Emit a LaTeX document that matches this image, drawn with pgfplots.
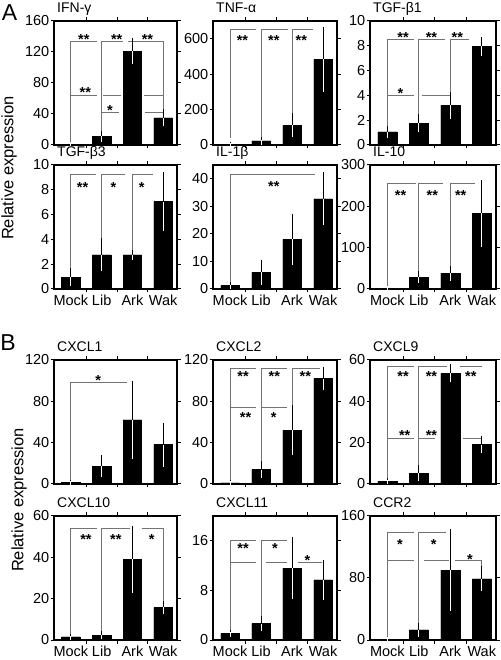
\documentclass[border=0pt]{standalone}
\usepackage{fontspec}
\setmainfont{Liberation Sans}
\usepackage{pgfplots}
\usepackage{pgfplotstable}
\pgfplotsset{compat=1.18}
\definecolor{brkgray}{gray}{0.45}

\pgfplotstableread[row sep=\\]{x y e\\ 1 1 0.5\\ 2 11 4\\ 3 121 14\\ 4 35 8\\}\tifn
\pgfplotstableread[row sep=\\]{x y e\\ 1 2 1\\ 2 23 9\\ 3 111 56\\ 4 483 170\\}\ttnf
\pgfplotstableread[row sep=\\]{x y e\\ 1 1.05 0.3\\ 2 1.75 0.55\\ 3 3.2 0.9\\ 4 7.95 0.6\\}\ttgfa
\pgfplotstableread[row sep=\\]{x y e\\ 1 0.95 0.55\\ 2 2.75 1.15\\ 3 2.75 0.25\\ 4 7.05 2.2\\}\ttgfb
\pgfplotstableread[row sep=\\]{x y e\\ 1 1.2 0.4\\ 2 6 3.8\\ 3 18 8.5\\ 4 32.7 8.8\\}\tilb
\pgfplotstableread[row sep=\\]{x y e\\ 1 2 1\\ 2 29 8\\ 3 38.5 13\\ 4 183 75\\}\tilx
\pgfplotstableread[row sep=\\]{x y e\\ 1 1.5 0.5\\ 2 17 8.5\\ 3 62 36\\ 4 38 19\\}\tca
\pgfplotstableread[row sep=\\]{x y e\\ 1 1 0.5\\ 2 14 6\\ 3 52 22\\ 4 102 9\\}\tcb
\pgfplotstableread[row sep=\\]{x y e\\ 1 1.3 0.4\\ 2 5.2 2.7\\ 3 53.5 3.3\\ 4 19 3\\}\tcc
\pgfplotstableread[row sep=\\]{x y e\\ 1 1.5 0.5\\ 2 2.4 1\\ 3 39 15\\ 4 15.8 2\\}\tcd
\pgfplotstableread[row sep=\\]{x y e\\ 1 1.05 0.15\\ 2 2.65 0.9\\ 3 11.6 4.6\\ 4 9.7 2.9\\}\tce
\pgfplotstableread[row sep=\\]{x y e\\ 1 1 0.5\\ 2 13 6.5\\ 3 90 50\\ 4 79 13\\}\tcf

\pgfplotsset{
 panel/.style={
  scale only axis, height=124pt,
  xmin=0.45, xmax=4.45, ymin=0,
  anchor=south west,
  axis line style={black, line width=1.2pt},
  tick align=outside,
  major tick length=3.5pt,
  tick style={black, line width=1pt},
  xtick={1.5,2.5,3.5}, xticklabels={},
  ticklabel style={font=\fontsize{14.5}{14.5}\selectfont},
  /pgf/number format/assume math mode=true,
  yticklabel style={inner sep=1pt},
  xticklabel style={inner sep=2pt},
  title style={at={(0,1)}, anchor=base west, font=\fontsize{14}{14}\selectfont, inner sep=0pt, yshift=2.5pt, xshift=3pt},
  clip=false,
 },
 cats/.style={extra x ticks={1,2,3,4}, extra x tick labels={Mock,Lib,Ark,Wak},
   extra x tick style={tick style={draw=none}}},
 brk/.style={draw=brkgray, line width=0.9pt, no marks},
}
\tikzset{st/.style={anchor=base, yshift=-8pt, inner sep=0pt, font=\fontsize{14.5}{14.5}\selectfont\bfseries}}

\newcommand{\bars}[1]{%
 \addplot[ybar, bar width=0.6, bar shift=0pt, fill=black, draw=black, line width=0.5pt,
   error bars/.cd, y dir=plus, y explicit,
   error bar style={black, line width=1pt},
   error mark options={black, mark size=2.2pt, line width=1pt}]
   table[x=x, y=y, y error=e] {#1};
 \addplot[ybar, bar width=0.6, bar shift=0pt, fill=black, draw=black, line width=0.5pt,
   error bars/.cd, y dir=minus, y explicit,
   error bar style={white, line width=1pt},
   error mark options={white, mark size=2.2pt, line width=1pt}]
   table[x=x, y=y, y error=e] {#1};
}

\begin{document}
\begin{tikzpicture}
\useasboundingbox (0,0) rectangle (500pt,660pt);

% ---------- Panel A ----------
\node[font=\fontsize{23}{23}\selectfont] at (9.5pt,647pt) {A};
\node[rotate=90, font=\fontsize{16.5}{16.5}\selectfont] at (9pt,492pt) {Relative expression};

% IFN-gamma
\begin{axis}[panel, at={(54pt,515pt)}, width=123pt, ymax=160, ytick={0,40,80,120,160}, title={IFN-γ}]
\addplot[brk] coordinates {(1,2) (1,133) (1.85,133)};
\addplot[brk] coordinates {(2,15.5) (2,133) (2.7,133)};
\addplot[brk] coordinates {(2.87,133) (4,133) (4,44)};
\addplot[brk] coordinates {(1,64) (1.85,64)};
\addplot[brk] coordinates {(2.05,64) (2.62,64)};
\addplot[brk] coordinates {(3.38,64) (4,64)};
\addplot[brk] coordinates {(2,42) (2.55,42)};
\addplot[brk] coordinates {(3.4,42) (4,42)};
\bars{\tifn}
\node[st] at (axis cs:1.42,140) {**};
\node[st] at (axis cs:2.49,140) {**};
\node[st] at (axis cs:3.49,140) {**};
\node[st] at (axis cs:1.47,72) {**};
\node[st] at (axis cs:2.27,48.4) {*};
\end{axis}

% TNF-alpha
\begin{axis}[panel, at={(213pt,515pt)}, width=124pt, ymax=700, ytick={0,200,400,600}, title={TNF-α}]
\addplot[brk] coordinates {(1,42) (1,652) (1.85,652)};
\addplot[brk] coordinates {(2,38) (2,652) (2.87,652)};
\addplot[brk] coordinates {(3,172) (3,652) (3.66,652)};
\bars{\ttnf}
\node[st] at (axis cs:1.40,608) {**};
\node[st] at (axis cs:2.41,608) {**};
\node[st] at (axis cs:3.30,608) {**};
\end{axis}

% TGF-beta1
\begin{axis}[panel, at={(370pt,515pt)}, width=126pt, ymax=10, ytick={0,2,4,6,8,10}, title={TGF-β1}]
\addplot[brk] coordinates {(1,1.35) (1,8.49) (1.85,8.49)};
\addplot[brk] coordinates {(2,2.35) (2,8.49) (2.82,8.49)};
\addplot[brk] coordinates {(3,4.1) (3,8.49) (3.59,8.49)};
\addplot[brk] coordinates {(1,4.03) (1.85,4.03)};
\addplot[brk] coordinates {(2.11,4.03) (3,4.03)};
\bars{\ttgfa}
\node[st] at (axis cs:1.5,8.9) {**};
\node[st] at (axis cs:2.4,8.9) {**};
\node[st] at (axis cs:3.22,8.9) {**};
\node[st] at (axis cs:1.42,4.43) {*};
\end{axis}

% TGF-beta3
\begin{axis}[panel, cats, at={(54pt,371pt)}, width=123pt, ymax=10, ytick={0,2,4,6,8,10}, title={TGF-β3}]
\addplot[brk] coordinates {(1,1.6) (1,9.2) (1.8,9.2)};
\addplot[brk] coordinates {(2,3.9) (2,9.2) (2.76,9.2)};
\addplot[brk] coordinates {(3,3.0) (3,9.2) (3.68,9.2)};
\bars{\ttgfb}
\node[st] at (axis cs:1.38,8.45) {**};
\node[st] at (axis cs:2.38,8.45) {*};
\node[st] at (axis cs:3.3,8.45) {*};
\end{axis}

% IL-1beta
\begin{axis}[panel, cats, at={(213pt,371pt)}, width=124pt, ymax=45, ytick={0,10,20,30,40}, title={IL-1β}]
\addplot[brk] coordinates {(1,1.8) (1,41.5) (3.75,41.5)};
\bars{\tilb}
\node[st] at (axis cs:2.41,38.2) {**};
\end{axis}

% IL-10
\begin{axis}[panel, cats, at={(370pt,371pt)}, width=126pt, ymax=300, ytick={0,100,200,300}, title={IL-10}]
\addplot[brk] coordinates {(1,4) (1,255) (1.9,255)};
\addplot[brk] coordinates {(2,37) (2,255) (2.78,255)};
\addplot[brk] coordinates {(3,52) (3,255) (3.78,255)};
\bars{\tilx}
\node[st] at (axis cs:1.42,234) {**};
\node[st] at (axis cs:2.43,234) {**};
\node[st] at (axis cs:3.33,234) {**};
\end{axis}

% ---------- Panel B ----------
\node[font=\fontsize{23}{23}\selectfont] at (8pt,317pt) {B};
\node[rotate=90, font=\fontsize{16.5}{16.5}\selectfont] at (19pt,160pt) {Relative expression};

% CXCL1
\begin{axis}[panel, at={(54pt,176pt)}, width=123pt, ymax=120, ytick={0,40,80,120}, title={CXCL1}]
\addplot[brk] coordinates {(1,2.5) (1,98) (2.81,98)};
\bars{\tca}
\node[st] at (axis cs:1.89,103) {*};
\end{axis}

% CXCL2
\begin{axis}[panel, at={(213pt,176pt)}, width=124pt, ymax=120, ytick={0,40,80,120}, title={CXCL2}]
\addplot[brk] coordinates {(1,1.6) (1,112) (1.85,112)};
\addplot[brk] coordinates {(2,20) (2,112) (2.85,112)};
\addplot[brk] coordinates {(3,74) (3,112) (3.9,112)};
\addplot[brk] coordinates {(1,74) (1.85,74)};
\addplot[brk] coordinates {(2,74) (2.85,74)};
\bars{\tcb}
\node[st] at (axis cs:1.42,106.5) {**};
\node[st] at (axis cs:2.43,106.5) {**};
\node[st] at (axis cs:3.43,106.5) {**};
\node[st] at (axis cs:1.5,67.7) {**};
\node[st] at (axis cs:2.41,67.7) {*};
\end{axis}

% CXCL9
\begin{axis}[panel, at={(370pt,176pt)}, width=126pt, ymax=60, ytick={0,20,40,60}, title={CXCL9}]
\addplot[brk] coordinates {(1,1.8) (1,56.7) (1.85,56.7)};
\addplot[brk] coordinates {(2,7.8) (2,56.7) (2.9,56.7)};
\addplot[brk] coordinates {(3.3,56.7) (4,56.7)};
\addplot[brk] coordinates {(1,21.9) (1.85,21.9)};
\addplot[brk] coordinates {(2,21.9) (2.5,21.9)};
\addplot[brk] coordinates {(3.4,21.9) (4,21.9)};
\bars{\tcc}
\node[st] at (axis cs:1.5,53.5) {**};
\node[st] at (axis cs:2.4,53.5) {**};
\node[st] at (axis cs:3.65,53.5) {**};
\node[st] at (axis cs:1.55,25.1) {**};
\node[st] at (axis cs:2.4,25.1) {**};
\end{axis}

% CXCL10
\begin{axis}[panel, cats, at={(54pt,20pt)}, width=123pt, ymax=60, ytick={0,20,40,60}, title={CXCL10}]
\addplot[brk] coordinates {(1,2) (1,54) (1.85,54)};
\addplot[brk] coordinates {(2,3.9) (2,54) (2.92,54)};
\addplot[brk] coordinates {(3.3,54) (4,54) (4,17.7)};
\bars{\tcd}
\node[st] at (axis cs:1.49,50) {**};
\node[st] at (axis cs:2.46,50) {**};
\node[st] at (axis cs:3.63,50) {*};
\end{axis}

% CXCL11
\begin{axis}[panel, cats, at={(213pt,20pt)}, width=124pt, ymax=20, ytick={0,8,16}, title={CXCL11}]
\addplot[brk] coordinates {(1,1.3) (1,16.1) (1.85,16.1)};
\addplot[brk] coordinates {(2,3.6) (2,16.1) (2.85,16.1)};
\addplot[brk] coordinates {(1,12.5) (1.85,12.5)};
\addplot[brk] coordinates {(2.15,12.5) (2.85,12.5)};
\addplot[brk] coordinates {(3.2,12.5) (3.95,12.5)};
\bars{\tce}
\node[st] at (axis cs:1.42,15.2) {**};
\node[st] at (axis cs:2.45,15.2) {*};
\node[st] at (axis cs:3.5,13.3) {*};
\end{axis}

% CCR2
\begin{axis}[panel, cats, at={(370pt,20pt)}, width=126pt, ymax=160, ytick={0,80,160}, title={CCR2}]
\addplot[brk] coordinates {(1,2) (1,139) (1.85,139)};
\addplot[brk] coordinates {(2,19.7) (2,139) (2.85,139)};
\addplot[brk] coordinates {(1,102) (1.85,102)};
\addplot[brk] coordinates {(2.15,102) (2.95,102)};
\addplot[brk] coordinates {(3.15,102) (4,102) (4,92)};
\bars{\tcf}
\node[st] at (axis cs:1.4,127) {*};
\node[st] at (axis cs:2.47,127) {*};
\node[st] at (axis cs:3.62,108) {*};
\end{axis}
\end{tikzpicture}
\end{document}
